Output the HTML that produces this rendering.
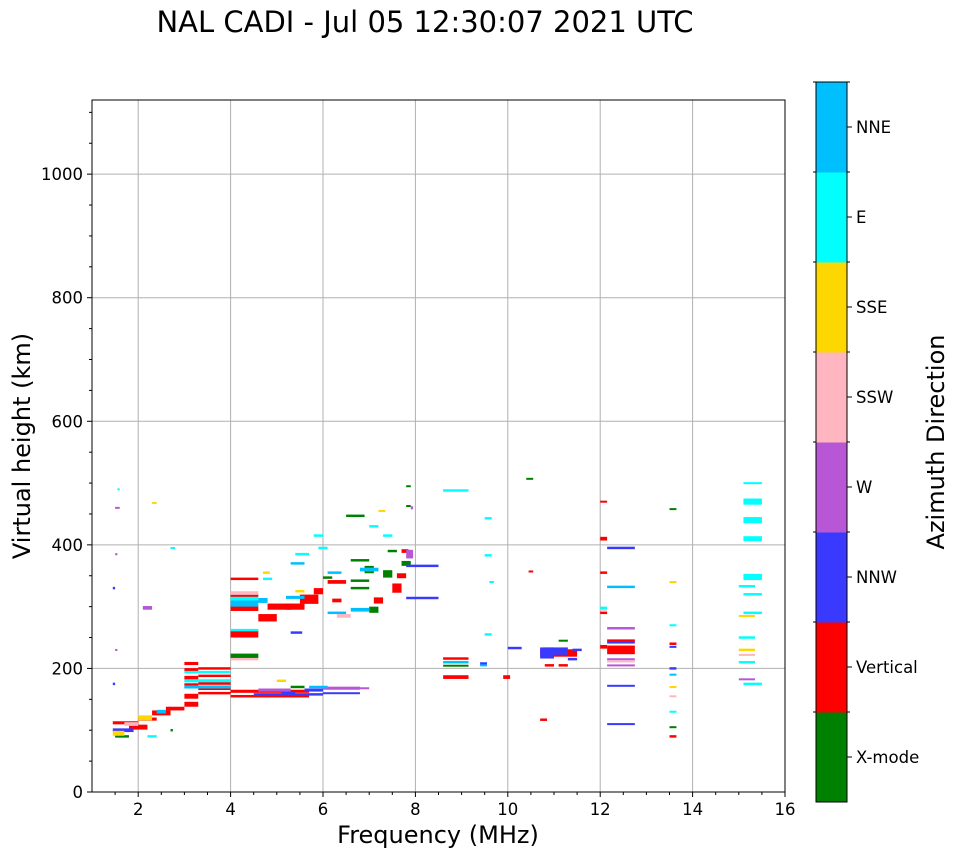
<!DOCTYPE html>
<html><head><meta charset="utf-8"><style>
body{margin:0;background:#fff;}
svg{display:block;font-family:"DejaVu Sans","Liberation Sans",sans-serif;}
</style></head><body>
<svg id="chart" width="958" height="857" viewBox="0 0 958 857" xmlns="http://www.w3.org/2000/svg">
<text x="425" y="32" font-size="29" text-anchor="middle">NAL CADI - Jul 05 12:30:07 2021 UTC</text>
<g id="grid"></g>
<g id="marks"></g>
<rect x="92" y="100" width="693" height="692" fill="none" stroke="#000" stroke-width="1"/>
<g id="axes"></g>
<text x="438" y="843" font-size="24" text-anchor="middle">Frequency (MHz)</text>
<text transform="translate(30,446) rotate(-90)" font-size="24" text-anchor="middle">Virtual height (km)</text>
<g id="cbar"></g>
<text transform="translate(944,442) rotate(-90)" font-size="24" text-anchor="middle">Azimuth Direction</text>
</svg>
<script>
const xTicks=[2,4,6,8,10,12,14,16];
const yTicks=[0,200,400,600,800,1000];
const directions=["X-mode","Vertical","NNW","W","SSW","SSE","E","NNE"];
const dirColors=["#008000","#ff0000","#3a3aff","#b857d6","#ffb6c1","#ffd700","#00ffff","#00bfff"];
// [fStart, fEnd, heightKm, thicknessKm]
const xmode=[[1.5,1.8,90,4],[6.5,6.9,447,4],[6.6,7.0,375,4],[6.6,7.0,342,4],[6.6,7.0,330,4],[6.9,7.1,360,12],[7.0,7.2,295,10],[7.4,7.6,390,4],[7.3,7.5,353,12],[7.7,7.9,370,8],[7.8,7.9,495,3],[4.0,4.6,220,8],[8.6,9.15,205,2],[10.4,10.55,507,3],[13.5,13.65,458,3],[13.5,13.65,105,3],[10.8,11.0,232,4],[11.1,11.3,245,3],[5.3,5.6,170,4],[6.0,6.2,347,4],[7.8,7.9,463,3],[2.7,2.75,100,4]];
const vertical=[[1.45,2.0,112,5],[1.8,2.2,105,8],[2.0,2.4,118,5],[2.3,2.7,128,8],[2.6,3.0,135,6],[3.0,3.3,142,8],[3.0,3.3,155,8],[3.0,3.3,172,8],[3.0,3.3,185,6],[3.0,3.3,198,5],[3.0,3.3,208,5],[3.3,4.0,200,4],[3.3,4.0,188,4],[3.3,4.0,176,5],[3.3,4.0,168,6],[3.3,4.0,160,4],[4.0,5.7,163,5],[4.0,5.7,155,4],[4.0,4.6,345,4],[4.0,4.6,318,5],[4.0,4.6,298,10],[4.0,4.6,256,12],[4.6,5.0,282,12],[4.8,5.3,300,10],[5.2,5.6,300,10],[5.5,5.9,312,15],[5.8,6.0,325,10],[6.1,6.5,340,6],[6.2,6.4,310,6],[7.1,7.3,310,10],[7.5,7.7,330,15],[7.6,7.8,350,8],[7.7,7.85,390,6],[8.6,9.15,216,4],[8.6,9.15,186,6],[9.9,10.05,186,6],[10.7,10.85,117,4],[10.45,10.55,357,3],[12.0,12.15,470,3],[12.0,12.15,410,6],[12.0,12.15,355,4],[12.0,12.15,290,4],[12.0,12.15,235,6],[12.15,12.75,245,4],[12.15,12.75,230,14],[13.5,13.65,240,4],[13.5,13.65,90,4],[10.7,11.5,225,12],[10.8,11.0,205,4],[11.1,11.3,205,4]];
const nnw=[[1.45,1.9,100,6],[7.8,8.5,366,4],[7.8,8.5,314,4],[12.15,12.75,395,4],[12.15,12.75,242,3],[12.15,12.75,172,3],[12.15,12.75,110,3],[10.7,11.0,225,18],[11.0,11.3,228,12],[11.4,11.6,230,4],[10.0,10.3,233,4],[9.4,9.55,208,4],[5.1,5.4,160,5],[6.0,6.8,160,3],[5.6,6.0,165,5],[5.3,5.55,258,4],[4.5,6.0,158,4],[13.5,13.65,235,3],[13.5,13.65,200,4],[11.3,11.5,215,4],[1.45,1.5,330,4],[1.45,1.5,175,4]];
const west=[[2.1,2.3,298,6],[6.0,6.8,168,5],[12.15,12.75,265,4],[12.15,12.75,215,3],[12.15,12.75,205,3],[15.0,15.35,183,2],[4.6,5.3,165,5],[7.8,7.95,385,14],[7.9,7.95,460,5],[1.5,1.6,460,3],[6.8,7.0,168,3],[1.5,1.55,385,3],[1.5,1.55,230,3]];
const ssw=[[1.7,2.0,110,6],[4.0,4.6,322,6],[4.0,4.6,215,4],[6.3,6.6,285,6],[12.15,12.75,212,2],[15.0,15.35,222,3],[13.5,13.65,155,3],[12.0,12.15,295,3]];
const sse=[[1.45,1.7,95,8],[2.0,2.3,120,8],[4.7,4.85,355,4],[5.4,5.6,325,4],[7.2,7.35,455,3],[15.0,15.35,285,3],[15.0,15.35,230,4],[13.5,13.65,340,3],[13.5,13.65,170,3],[2.3,2.4,468,3],[5.0,5.2,180,4]];
const east=[[15.1,15.5,500,3],[15.1,15.5,470,10],[15.1,15.5,440,10],[15.1,15.5,410,8],[15.1,15.5,348,10],[15.1,15.5,320,4],[15.1,15.5,290,4],[15.0,15.35,333,4],[15.0,15.35,250,4],[15.0,15.35,210,4],[15.1,15.5,175,4],[8.6,9.15,488,4],[9.5,9.65,443,4],[9.5,9.65,383,4],[9.5,9.65,255,4],[9.6,9.7,340,3],[12.0,12.15,298,4],[5.4,5.7,385,4],[5.9,6.1,395,4],[7.0,7.2,430,4],[7.3,7.5,415,4],[13.5,13.65,270,3],[13.5,13.65,130,3],[4.0,4.6,312,8],[4.0,4.6,262,4],[3.0,4.0,194,4],[3.0,4.0,180,5],[5.8,6.0,415,4],[4.7,4.9,345,4],[2.2,2.4,90,4],[2.7,2.8,395,3],[1.55,1.6,490,3]];
const nne=[[12.15,12.75,332,4],[4.0,4.6,305,10],[4.6,4.8,310,8],[5.3,5.6,370,4],[6.1,6.4,355,4],[6.6,7.0,295,6],[5.2,5.6,315,5],[6.1,6.5,290,4],[8.6,9.15,210,4],[9.4,9.55,205,3],[13.5,13.65,190,3],[2.4,2.6,130,6],[5.7,6.1,170,4],[6.8,7.2,360,6],[3.0,4.0,170,5]];
const seriesList=[xmode,vertical,nnw,west,ssw,sse,east,nne];

const NS="http://www.w3.org/2000/svg";
const X0=92,X1=785,Y0=792,Y1=100,FMIN=1,FMAX=16,HMIN=0,HMAX=1120;
function xs(f){return X0+(f-FMIN)/(FMAX-FMIN)*(X1-X0);}
function ys(h){return Y0-(h-HMIN)/(HMAX-HMIN)*(Y0-Y1);}
function mk(tag,attrs,parent){const e=document.createElementNS(NS,tag);for(const k in attrs)e.setAttribute(k,attrs[k]);parent.appendChild(e);return e;}
const grid=document.getElementById('grid'),axes=document.getElementById('axes'),marks=document.getElementById('marks'),cbar=document.getElementById('cbar');
xTicks.forEach(t=>{const x=xs(t);
 if(t<FMAX){const g=mk('line',{x1:x,x2:x,y1:Y1,y2:Y0,stroke:'#b0b0b0','stroke-width':1},grid);
 
 }
 mk('line',{x1:x,x2:x,y1:Y0,y2:Y0+5,stroke:'#000'},axes);
 const l=mk('text',{x:x,y:Y0+23,'font-size':16.5,'text-anchor':'middle'},axes);l.textContent=t;
 
 });
yTicks.forEach(t=>{const y=ys(t);
 if(t>0){const g=mk('line',{x1:X0,x2:X1,y1:y,y2:y,stroke:'#b0b0b0','stroke-width':1},grid);
 
 }
 mk('line',{x1:X0-5,x2:X0,y1:y,y2:y,stroke:'#000'},axes);
 const l=mk('text',{x:X0-9,y:y+6,'font-size':16.5,'text-anchor':'end'},axes);l.textContent=t;
 
 });
for(let h=50;h<HMAX;h+=50){if(h%200)mk('line',{x1:X0-3,x2:X0,y1:ys(h),y2:ys(h),stroke:'#000'},axes);}
for(let f=1.5;f<FMAX;f+=0.5){if(f%2)mk('line',{x1:xs(f),x2:xs(f),y1:Y0,y2:Y0+3,stroke:'#000'},axes);}
seriesList.forEach((arr,ci)=>{arr.forEach(s=>{
 const x=xs(s[0]),w=Math.max(2,xs(s[1])-xs(s[0]));
 const yt=ys(s[2]+s[3]/2),hh=Math.max(2,ys(s[2]-s[3]/2)-yt);
 const r=mk('rect',{x:x,y:yt,width:w,height:hh,fill:dirColors[ci]},marks);
 
 });});
const CX=816,CW=31,CT=82,CB=802,bh=(CB-CT)/directions.length;
directions.forEach((d,i)=>{const y=CB-(i+1)*bh;
 const r=mk('rect',{x:CX,y:y,width:CW,height:bh+0.5,fill:dirColors[i]},cbar);
 
 
 mk('line',{x1:CX+CW,x2:CX+CW+5,y1:y+bh/2,y2:y+bh/2,stroke:'#000'},cbar);
 mk('line',{x1:CX+CW,x2:CX+CW+3,y1:y,y2:y,stroke:'#000'},cbar);
 mk('line',{x1:CX-3,x2:CX,y1:y,y2:y,stroke:'#000'},cbar);
 const l=mk('text',{x:CX+CW+9,y:y+bh/2+6,'font-size':16.5},cbar);l.textContent=d;
 
 });
mk('rect',{x:CX,y:CT,width:CW,height:CB-CT,fill:'none',stroke:'#000'},cbar);
</script>
</body></html>
